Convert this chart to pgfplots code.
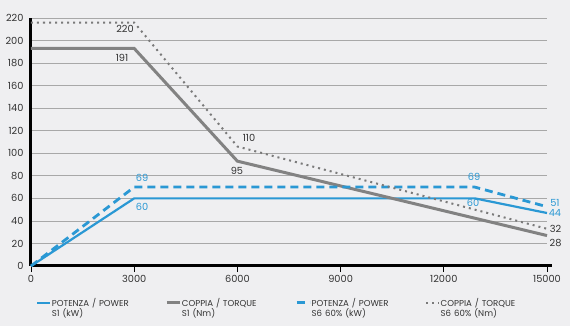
\documentclass[border=0pt]{standalone}
\usepackage{pgfplots}
\pgfplotsset{compat=1.18}
\usepackage{fontspec}
\setmainfont{Poppins}
\definecolor{bg}{HTML}{EFEFF1}
\definecolor{pblue}{HTML}{2A98D4}
\definecolor{tgray}{HTML}{828282}
\definecolor{dgray}{HTML}{7A7A7A}
\definecolor{gridc}{HTML}{A8A8A8}
\definecolor{txt}{HTML}{333333}
\begin{document}
\begin{tikzpicture}[x=1pt,y=1pt]
\fill[bg] (-31,-60) rectangle (539,266);
\begin{axis}[
  at={(0,0)}, anchor=south west,
  scale only axis, width=516pt, height=248pt,
  xmin=0, xmax=15000, ymin=0, ymax=220,
  clip=false,
  axis x line=bottom, axis y line=left,
  axis line style={-, black, line width=3pt},
  x axis line style={shorten >=-5pt},
  xtick={0,3000,6000,9000,12000,15000},
  ytick={0,20,...,220},
  scaled x ticks=false,
  xticklabel style={/pgf/number format/.cd, 1000 sep={}},
  /pgf/number format/assume math mode=true,
  ymajorgrids, grid style={gridc, line width=0.8pt},
  x tick style={black, line width=0.8pt},
  tick align=outside, major tick length=6pt,
  y tick style={draw=none},
  tick label style={font=\fontsize{9.8}{11}\selectfont, text=txt},
  yticklabel style={xshift=2pt},
  legend style={at={(axis description cs:0.512,-0.118)}, anchor=north, draw=none, fill=none,
    legend columns=4, font=\fontsize{8.6}{8.4}\selectfont, text=txt,
    nodes={align=left, text width=113pt, inner sep=0.5pt},
    /tikz/every even column/.append style={column sep=0pt}},
  legend image code/.code={\draw[#1] (0pt,0pt) -- (13pt,0pt);},
]
\addplot[pblue, line width=2.2pt] coordinates {(0,0) (3000,60) (12900,60) (15000,47)};
\addlegendentry{POTENZA / POWER\\S1 (kW)}
\addplot[tgray, line width=3pt] coordinates {(0,193) (3000,193) (6000,93) (15000,27)};
\addlegendentry{COPPIA / TORQUE\\S1 (Nm)}
\addplot[pblue, line width=2.8pt, dash pattern=on 8pt off 5pt] coordinates {(0,0) (3000,70) (12900,70) (15000,52.6)};
\addlegendentry{POTENZA / POWER\\S6 60\% (kW)}
\addplot[dgray, line width=2pt, dash pattern=on 2pt off 4pt] coordinates {(0,216) (3000,216) (6000,106) (15000,33)};
\addlegendentry{COPPIA / TORQUE\\S6 60\% (Nm)}
\begin{scope}[every node/.style={font=\fontsize{9.8}{11}\selectfont}]
\node[text=txt] at (axis cs:2733,210) {220};
\node[text=txt] at (axis cs:2645,185) {191};
\node[text=txt] at (axis cs:6337,113.6) {110};
\node[text=txt] at (axis cs:5988,84) {95};
\node[text=pblue] at (axis cs:3227,78) {69};
\node[text=pblue] at (axis cs:3227,52) {60};
\node[text=pblue] at (axis cs:12878,79) {69};
\node[text=pblue] at (axis cs:12849,56) {60};
\node[text=pblue] at (axis cs:15232,56) {51};
\node[text=pblue] at (axis cs:15232,47) {44};
\node[text=txt] at (axis cs:15250,33) {32};
\node[text=txt] at (axis cs:15250,20) {28};
\end{scope}
\end{axis}
\pgfresetboundingbox
\path (-31,-60) rectangle (539,266);
\end{tikzpicture}
\end{document}
